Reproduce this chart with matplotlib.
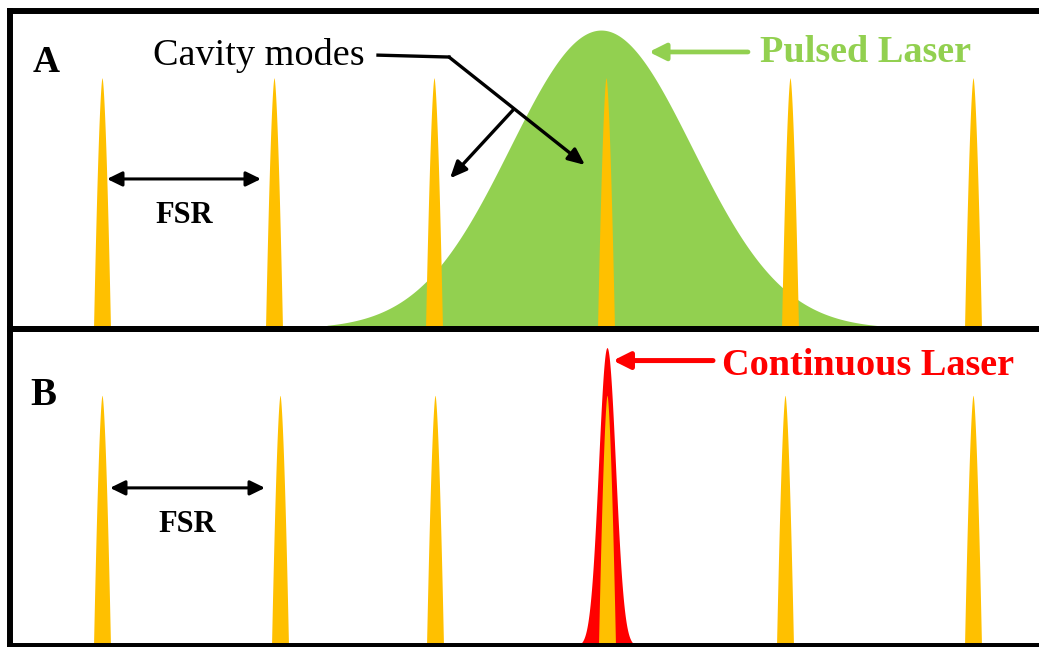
import numpy as np
import matplotlib.pyplot as plt

plt.rcParams['font.family'] = ['Liberation Serif', 'DejaVu Serif']

# cavity mode positions (frequency, arbitrary units)
modes_a = [102, 274, 434, 606, 790, 973]
modes_b = [102, 280, 435, 607, 785, 973]
mode_height = 0.79
mode_halfwidth = 8.5

# pulsed laser spectrum (panel A)
pulse_center = 601
pulse_sigma = 91
pulse_height = 0.94
pulse_range = [327, 900]

# continuous laser line (panel B)
cw_center = 607
cw_sigma = 8.5
cw_height = 0.94

# free spectral range markers
fsr_a = [107, 261]
fsr_b = [110, 265]

GOLD = '#FFC000'
GREEN = '#92D050'
RED = '#FF0000'

W, H = 1039, 647
fig = plt.figure(figsize=(W / 100, H / 100), dpi=100)
ax_a = fig.add_axes([10 / W, (H - 328.5) / H, 1035 / W, 317.5 / H])
ax_b = fig.add_axes([10 / W, (H - 646) / H, 1035 / W, 317.5 / H])


def setup(ax):
    ax.set_xlim(10, 1045)
    ax.set_ylim(0, 1)
    ax.set_xticks([])
    ax.set_yticks([])
    for s in ['left', 'top', 'bottom']:
        ax.spines[s].set_linewidth(4.3)
        ax.spines[s].set_zorder(5)
    ax.spines['right'].set_visible(False)
    ax.patch.set_alpha(0)


def draw_mode(ax, c):
    x = np.linspace(c - mode_halfwidth, c + mode_halfwidth, 80)
    y = mode_height * (1 - (np.abs(x - c) / mode_halfwidth) ** 1.6)
    ax.fill_between(x, 0, y, color=GOLD, lw=0, zorder=3)


def arrow(ax, start, tip, color='black', lw=2.4, style='-|>', hl=0.5, hw=0.22):
    ax.annotate('', xy=tip, xytext=start,
                arrowprops=dict(arrowstyle=f'{style},head_length={hl},head_width={hw}',
                                color=color, lw=lw, mutation_scale=20,
                                shrinkA=0, shrinkB=0),
                zorder=6)


setup(ax_a)
setup(ax_b)

# ---- panel A: pulsed laser
x = np.linspace(pulse_range[0], pulse_range[1], 500)
y = pulse_height * np.exp(-0.5 * ((x - pulse_center) / pulse_sigma) ** 2)
ax_a.fill_between(x, 0, y, color=GREEN, lw=0, zorder=2)
for c in modes_a:
    draw_mode(ax_a, c)

ax_a.text(33, 0.808, 'A', fontsize=27, fontweight='bold', va='baseline')
ax_a.text(153, 0.830, 'Cavity modes', fontsize=27.5, va='baseline')
ax_a.plot([378, 449], [0.861, 0.855], color='black', lw=2.4, zorder=6)
arrow(ax_a, (449, 0.855), (585, 0.515))
arrow(ax_a, (513, 0.688), (450, 0.473))

ax_a.text(760, 0.839, 'Pulsed Laser', fontsize=27.5, fontweight='bold',
          color=GREEN, va='baseline')
arrow(ax_a, (748, 0.871), (649, 0.871), color=GREEN, lw=3.4, hl=0.5, hw=0.25)

arrow(ax_a, (fsr_a[0], 0.471), (fsr_a[1], 0.471), lw=2.2, style='<|-|>', hl=0.45, hw=0.22)
ax_a.text(sum(fsr_a) / 2, 0.332, 'FSR', fontsize=22, fontweight='bold',
          ha='center', va='baseline')

# ---- panel B: continuous laser
x = np.linspace(cw_center - 4 * cw_sigma, cw_center + 4 * cw_sigma, 200)
y = cw_height * np.exp(-0.5 * ((x - cw_center) / cw_sigma) ** 2)
ax_b.fill_between(x, 0, y, color=RED, lw=0, zorder=2)
for c in modes_b:
    draw_mode(ax_b, c)

ax_b.text(30, 0.759, 'B', fontsize=28, fontweight='bold', va='baseline')
ax_b.text(722, 0.854, 'Continuous Laser', fontsize=27.5, fontweight='bold',
          color=RED, va='baseline')
arrow(ax_b, (713, 0.899), (613, 0.899), color=RED, lw=3.6, hl=0.5, hw=0.25)

arrow(ax_b, (fsr_b[0], 0.498), (fsr_b[1], 0.498), lw=2.2, style='<|-|>', hl=0.45, hw=0.22)
ax_b.text(sum(fsr_b) / 2, 0.359, 'FSR', fontsize=22, fontweight='bold',
          ha='center', va='baseline')

fig.savefig('out.png', dpi=100)
